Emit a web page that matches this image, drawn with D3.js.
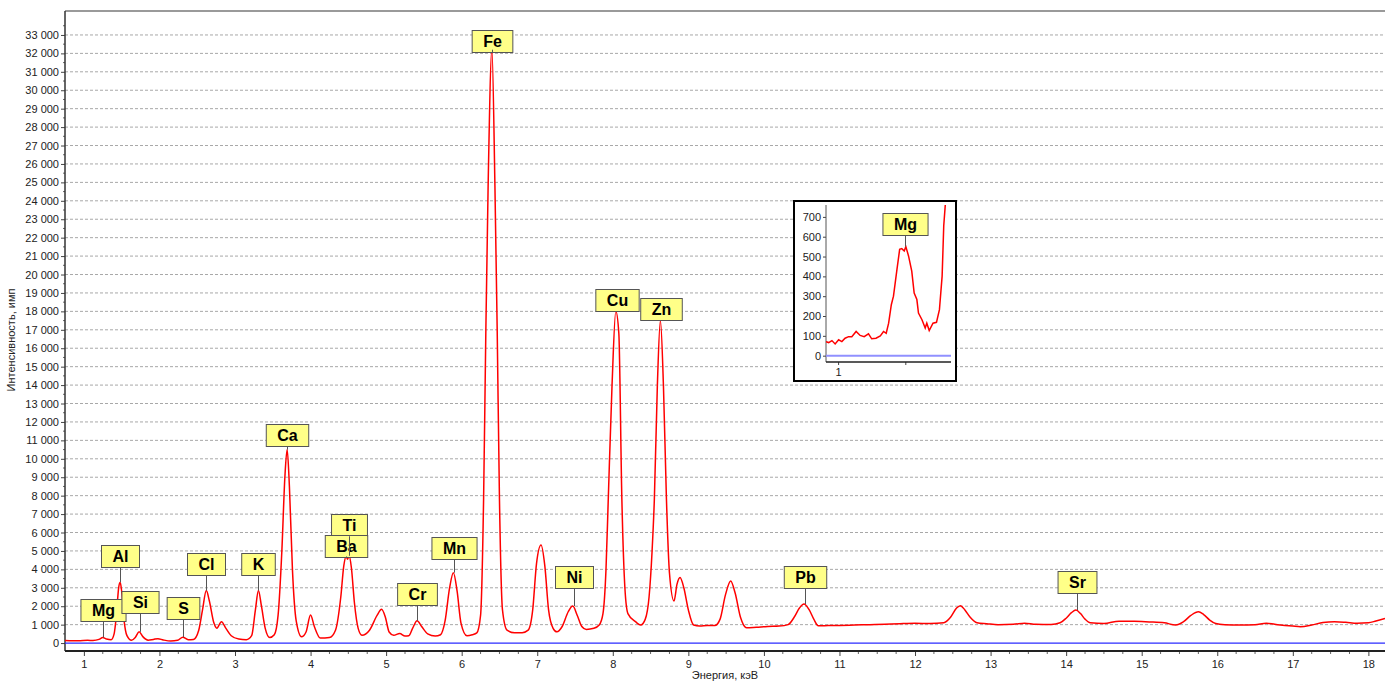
<!DOCTYPE html>
<html>
<head>
<meta charset="utf-8">
<script src="https://cdn.jsdelivr.net/npm/d3@7"></script>
<style>
  body { margin: 0; background: #fff; }
  text { font-family: "Liberation Sans", Arial, sans-serif; }
</style>
</head>
<body>
<div id="chart"></div>
<script>
// spectrum: energy (keV) and intensity (counts)
const energy = [0.75, 0.85, 0.95, 1.05, 1.12, 1.20, 1.25, 1.30, 1.36, 1.40, 1.43, 1.46, 1.48, 1.50, 1.53, 1.57, 1.63, 1.68, 1.73, 1.78, 1.85, 1.92, 1.98, 2.05, 2.15, 2.24, 2.31, 2.38, 2.45, 2.52, 2.57, 2.62, 2.66, 2.72, 2.76, 2.82, 2.88, 2.95, 3.05, 3.15, 3.22, 3.27, 3.31, 3.35, 3.40, 3.46, 3.52, 3.57, 3.62, 3.66, 3.69, 3.72, 3.76, 3.81, 3.88, 3.94, 4.00, 4.05, 4.13, 4.25, 4.33, 4.40, 4.44, 4.47, 4.49, 4.51, 4.54, 4.58, 4.63, 4.68, 4.78, 4.88, 4.94, 4.99, 5.04, 5.10, 5.18, 5.25, 5.30, 5.35, 5.41, 5.47, 5.55, 5.65, 5.72, 5.78, 5.84, 5.89, 5.94, 5.99, 6.07, 6.14, 6.20, 6.25, 6.29, 6.32, 6.35, 6.40, 6.44, 6.47, 6.50, 6.54, 6.60, 6.70, 6.80, 6.88, 6.94, 6.99, 7.05, 7.10, 7.15, 7.21, 7.26, 7.33, 7.41, 7.47, 7.53, 7.59, 7.65, 7.75, 7.82, 7.87, 7.91, 7.94, 7.99, 8.04, 8.08, 8.12, 8.16, 8.20, 8.30, 8.37, 8.43, 8.48, 8.52, 8.55, 8.59, 8.63, 8.67, 8.71, 8.75, 8.81, 8.85, 8.89, 8.94, 9.00, 9.07, 9.15, 9.25, 9.35, 9.42, 9.49, 9.56, 9.62, 9.69, 9.77, 9.90, 10.05, 10.20, 10.32, 10.40, 10.47, 10.53, 10.60, 10.66, 10.72, 10.85, 11.00, 11.20, 11.40, 11.60, 11.80, 12.00, 12.20, 12.38, 12.47, 12.55, 12.60, 12.66, 12.73, 12.82, 12.95, 13.10, 13.30, 13.45, 13.60, 13.80, 13.92, 14.00, 14.07, 14.13, 14.19, 14.25, 14.32, 14.50, 14.70, 14.90, 15.10, 15.30, 15.45, 15.55, 15.65, 15.75, 15.82, 15.90, 15.98, 16.10, 16.30, 16.50, 16.65, 16.80, 17.00, 17.10, 17.25, 17.40, 17.55, 17.70, 17.85, 18.00, 18.10, 18.22];
const counts = [140, 120, 130, 150, 140, 200, 300, 220, 180, 500, 1500, 3000, 3300, 2800, 1300, 400, 150, 300, 610, 350, 160, 200, 240, 170, 110, 150, 320, 180, 200, 700, 1800, 2850, 2300, 1100, 810, 1160, 800, 400, 220, 180, 400, 1800, 2850, 2000, 800, 300, 450, 1500, 5000, 9000, 10500, 8500, 4000, 1200, 340, 600, 1520, 900, 270, 300, 700, 2500, 4200, 4700, 4550, 4750, 4100, 2200, 800, 430, 700, 1500, 1830, 1400, 600, 420, 520, 380, 400, 800, 1210, 900, 500, 380, 450, 1200, 3000, 3820, 2800, 1100, 400, 450, 550, 1500, 7800, 17000, 24800, 32200, 24800, 17000, 7800, 1800, 700, 560, 560, 700, 1800, 4300, 5320, 4200, 1800, 800, 610, 900, 1700, 2010, 1500, 900, 740, 800, 980, 1600, 4000, 7800, 14000, 18000, 16800, 7800, 3000, 1600, 1160, 980, 1300, 2500, 5000, 7800, 14000, 17500, 14000, 7800, 3800, 2280, 3200, 3560, 3000, 1800, 980, 920, 950, 950, 1300, 2600, 3370, 2700, 1400, 830, 860, 900, 920, 1000, 1400, 1900, 2120, 1800, 1300, 940, 950, 960, 980, 1000, 1020, 1050, 1070, 1060, 1100, 1400, 1900, 2030, 1800, 1400, 1100, 1050, 1000, 1020, 1080, 1020, 1010, 1100, 1350, 1650, 1790, 1600, 1300, 1100, 1060, 1190, 1180, 1150, 1100, 980, 1150, 1500, 1700, 1550, 1250, 1060, 1000, 980, 1000, 1080, 1000, 920, 890, 980, 1120, 1160, 1130, 1080, 1100, 1200, 1340];

// element labels: line energy, peak height, level of the box bottom
const elements = ["Mg", "Al", "Si", "S", "Cl", "K", "Ca", "Ti", "Ba", "Cr", "Mn", "Fe", "Ni", "Cu", "Zn", "Pb", "Sr"];
const elementEnergy = [1.25, 1.48, 1.74, 2.31, 2.62, 3.31, 3.69, 4.51, 4.47, 5.41, 5.90, 6.40, 7.48, 8.05, 8.64, 10.55, 14.14];
const elementPeak = [300, 3300, 610, 320, 2850, 2850, 10500, 4750, 4700, 1210, 3820, 32200, 2010, 18000, 17500, 2120, 1790];
const elementLevel = [1195, 4125, 1630, 1300, 3690, 3690, 10695, 5810, 4670, 2060, 4560, 32080, 2985, 18020, 17535, 2985, 2715];

// zoomed Mg region
const insetEnergy = [0.955, 0.965, 0.977, 0.989, 1.002, 1.014, 1.026, 1.039, 1.051, 1.067, 1.082, 1.097, 1.113, 1.125, 1.141, 1.157, 1.169, 1.179, 1.188, 1.198, 1.206, 1.219, 1.229, 1.237, 1.246, 1.252, 1.262, 1.274, 1.283, 1.293, 1.299, 1.312, 1.324, 1.330, 1.339, 1.353, 1.366, 1.377, 1.387, 1.393, 1.399];
const insetCounts = [71, 66, 76, 59, 80, 71, 88, 96, 96, 122, 102, 96, 110, 85, 88, 100, 122, 113, 164, 257, 300, 435, 536, 540, 528, 550, 503, 426, 316, 283, 215, 181, 139, 164, 127, 164, 168, 232, 401, 655, 765];
const insetYTicks = [0, 100, 200, 300, 400, 500, 600, 700];

const xTicks = d3.range(1, 19);
const yTicks = d3.range(0, 34000, 1000);

const width = 1385, height = 682;
const plot = { left: 65, top: 11, right: 1385, bottom: 651 };

const svg = d3.select("#chart").append("svg")
  .attr("width", width)
  .attr("height", height);

const x = d3.scaleLinear().domain([0.75, 18.22]).range([plot.left, plot.right]);
const y = d3.scaleLinear().domain([-430, 34300]).range([plot.bottom, plot.top]);

const fmt = v => d3.format(",")(v).replace(/,/g, " ");

function styleAxis(axis) {
  axis.select(".domain").remove();
  axis.selectAll("text").attr("font-size", 11).attr("fill", "#222")
    .style("font-family", "'Liberation Sans', Arial, sans-serif");
  axis.selectAll("line").attr("stroke", "#444");
}

function drawGrid() {
  svg.append("g")
    .selectAll("line")
    .data(yTicks.filter(d => d > 0))
    .join("line")
    .attr("x1", plot.left).attr("x2", plot.right)
    .attr("y1", d => y(d)).attr("y2", d => y(d))
    .attr("stroke", "#a8a8a8")
    .attr("stroke-dasharray", "3,2");

  svg.append("line")
    .attr("x1", plot.left).attr("x2", plot.right)
    .attr("y1", plot.top).attr("y2", plot.top)
    .attr("stroke", "#9a9a9a").attr("stroke-width", 2);
}

function drawAxes() {
  const yAxis = svg.append("g")
    .attr("transform", `translate(${plot.left},0)`)
    .call(d3.axisLeft(y).tickValues(yTicks).tickFormat(fmt).tickSize(4).tickPadding(2));
  styleAxis(yAxis);

  svg.append("g")
    .selectAll("line")
    .data(d3.range(500, 34000, 1000))
    .join("line")
    .attr("x1", plot.left - 2).attr("x2", plot.left)
    .attr("y1", d => y(d)).attr("y2", d => y(d))
    .attr("stroke", "#666");

  svg.append("line")
    .attr("x1", plot.left).attr("x2", plot.left)
    .attr("y1", plot.top).attr("y2", plot.bottom)
    .attr("stroke", "#333").attr("stroke-width", 1.5);

  const xAxis = svg.append("g")
    .attr("transform", `translate(0,${plot.bottom})`)
    .call(d3.axisBottom(x).tickValues(xTicks).tickFormat(d3.format("d")).tickSize(5).tickPadding(4));
  styleAxis(xAxis);

  svg.append("g")
    .selectAll("line")
    .data(d3.range(1, 18.3, 0.25).filter(d => d % 1 !== 0))
    .join("line")
    .attr("x1", d => x(d)).attr("x2", d => x(d))
    .attr("y1", plot.bottom).attr("y2", plot.bottom + 3)
    .attr("stroke", "#666");

  svg.append("line")
    .attr("x1", plot.left).attr("x2", plot.right)
    .attr("y1", plot.bottom).attr("y2", plot.bottom)
    .attr("stroke", "#222").attr("stroke-width", 2);

  svg.append("line")
    .attr("x1", plot.left).attr("x2", plot.right)
    .attr("y1", y(0)).attr("y2", y(0))
    .attr("stroke", "#2b2bff").attr("stroke-width", 1.2);

  svg.append("text")
    .attr("x", 725).attr("y", 679)
    .attr("text-anchor", "middle")
    .attr("font-size", 11).attr("fill", "#222")
    .text("Энергия, кэВ");

  svg.append("text")
    .attr("transform", "translate(15,340) rotate(-90)")
    .attr("text-anchor", "middle")
    .attr("font-size", 11).attr("fill", "#222")
    .text("Интенсивность, имп");
}

function drawSpectrum() {
  const data = energy.map((e, i) => [e, counts[i]]);
  const line = d3.line().x(d => x(d[0])).y(d => y(d[1])).curve(d3.curveMonotoneX);
  svg.append("path")
    .datum(data)
    .attr("d", line)
    .attr("fill", "none")
    .attr("stroke", "#ff0000")
    .attr("stroke-width", 1.5);
}

// boxes go into one layer, leader lines into a layer drawn above them
function drawLabel(boxLayer, lineLayer, name, px, pyPeak, pyBottom) {
  const box = boxLayer.append("rect")
    .attr("fill", "#ffff88")
    .attr("stroke", "#555")
    .attr("stroke-width", 1);
  const t = boxLayer.append("text")
    .attr("x", px).attr("y", pyBottom - 5.5)
    .attr("text-anchor", "middle")
    .attr("font-size", 16).attr("font-weight", "bold").attr("fill", "#000")
    .text(name);
  const w = t.node().getComputedTextLength() + 22;
  box.attr("x", px - w / 2).attr("y", pyBottom - 22).attr("width", w).attr("height", 22);
  lineLayer.append("line")
    .attr("x1", px).attr("x2", px)
    .attr("y1", pyBottom).attr("y2", pyPeak)
    .attr("stroke", "#555");
}

function drawLabels() {
  const boxes = svg.append("g");
  const lines = svg.append("g");
  elements.forEach((name, i) => {
    drawLabel(boxes, lines, name, Math.round(x(elementEnergy[i])) + 0.5, y(elementPeak[i]), Math.round(y(elementLevel[i])) + 0.5);
  });
  // Ti leader runs through the Ba box
  const ti = elements.indexOf("Ti");
  const tx = Math.round(x(elementEnergy[ti])) + 0.5;
  lines.append("line")
    .attr("x1", tx).attr("x2", tx)
    .attr("y1", Math.round(y(elementLevel[ti])) + 0.5).attr("y2", y(elementPeak[ti]))
    .attr("stroke", "#555");
}

function drawInset() {
  const frame = { left: 794, top: 201, right: 956, bottom: 381 };
  const inner = { left: 826, top: 205, right: 951, bottom: 362 };
  const g = svg.append("g");

  g.append("rect")
    .attr("x", frame.left).attr("y", frame.top)
    .attr("width", frame.right - frame.left).attr("height", frame.bottom - frame.top)
    .attr("fill", "#fff").attr("stroke", "#000").attr("stroke-width", 2);

  const ix = d3.scaleLinear().domain([0.955, 1.42]).range([inner.left, inner.right]);
  const iy = d3.scaleLinear().domain([-32, 760]).range([inner.bottom, inner.top]);

  g.append("clipPath").attr("id", "insetClip")
    .append("rect")
    .attr("x", inner.left).attr("y", inner.top)
    .attr("width", inner.right - inner.left).attr("height", inner.bottom - inner.top);

  const yAx = g.append("g")
    .attr("transform", `translate(${inner.left},0)`)
    .call(d3.axisLeft(iy).tickValues(insetYTicks).tickSize(3).tickPadding(2));
  styleAxis(yAx);

  g.append("line")
    .attr("x1", inner.left).attr("x2", inner.left)
    .attr("y1", inner.top).attr("y2", inner.bottom)
    .attr("stroke", "#555");

  const xAx = g.append("g")
    .attr("transform", `translate(0,${inner.bottom})`)
    .call(d3.axisBottom(ix).tickValues([1, 1.25]).tickFormat(d => d === 1 ? "1" : "").tickSize(3).tickPadding(3));
  styleAxis(xAx);

  g.append("line")
    .attr("x1", inner.left).attr("x2", inner.right)
    .attr("y1", inner.bottom).attr("y2", inner.bottom)
    .attr("stroke", "#222").attr("stroke-width", 1.5);

  g.append("line")
    .attr("x1", inner.left).attr("x2", inner.right)
    .attr("y1", iy(0)).attr("y2", iy(0))
    .attr("stroke", "#9090ff").attr("stroke-width", 2);

  const data = insetEnergy.map((e, i) => [e, insetCounts[i]]);
  g.append("path")
    .datum(data)
    .attr("clip-path", "url(#insetClip)")
    .attr("d", d3.line().x(d => ix(d[0])).y(d => iy(d[1])))
    .attr("fill", "none")
    .attr("stroke", "#ff0000")
    .attr("stroke-width", 1.5);

  drawLabel(g, g, "Mg", Math.round(ix(1.25)) + 0.5, iy(550), 235.5);
}

drawGrid();
drawAxes();
drawSpectrum();
drawLabels();
drawInset();
</script>
</body>
</html>
